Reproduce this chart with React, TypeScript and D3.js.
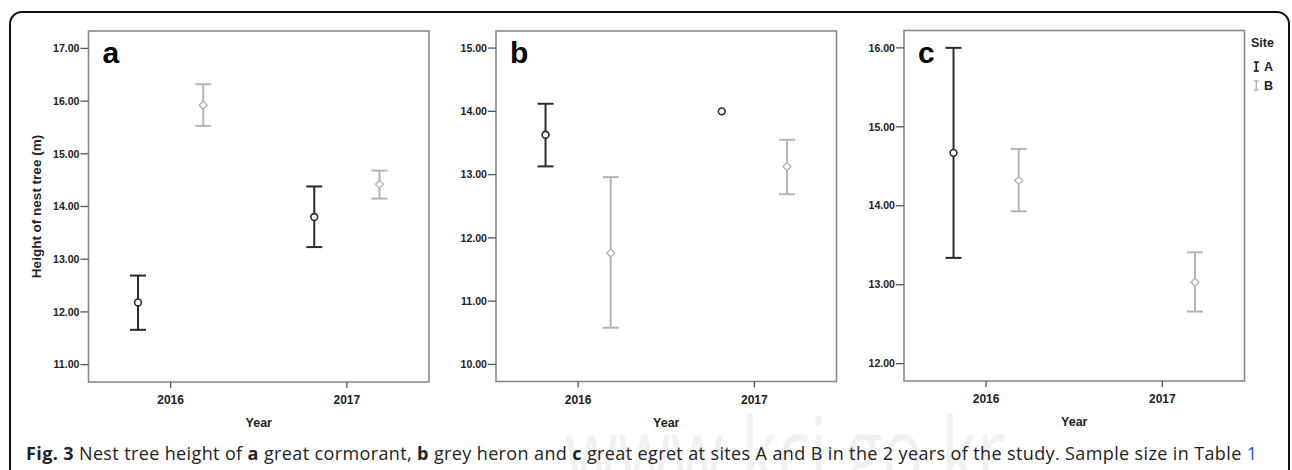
import React from "react";
import * as d3 from "d3";

// ---------- data ----------
const years = [2016, 2017];
const sites = ["A", "B"];

// a: great cormorant
const cormorantMeanA = [12.18, 13.8];
const cormorantLowA = [11.66, 13.23];
const cormorantHighA = [12.69, 14.38];
const cormorantMeanB = [15.92, 14.42];
const cormorantLowB = [15.53, 14.15];
const cormorantHighB = [16.32, 14.68];
const cormorantTicks = [11, 12, 13, 14, 15, 16, 17];

// b: grey heron
const heronMeanA = [13.63, 14.0];
const heronLowA: (number | null)[] = [13.13, null];
const heronHighA: (number | null)[] = [14.12, null];
const heronMeanB = [11.76, 13.13];
const heronLowB = [10.58, 12.69];
const heronHighB = [12.96, 13.55];
const heronTicks = [10, 11, 12, 13, 14, 15];

// c: great egret
const egretMeanA: (number | null)[] = [14.67, null];
const egretLowA: (number | null)[] = [13.34, null];
const egretHighA: (number | null)[] = [16.0, null];
const egretMeanB = [14.32, 13.03];
const egretLowB = [13.93, 12.66];
const egretHighB = [14.72, 13.41];
const egretTicks = [12, 13, 14, 15, 16];

const colorA = "#2b2b2b";
const colorB = "#b4b4b4";
const axisColor = "#8a8a8a";
const textColor = "#222";
const FONT = "'Liberation Sans', Arial, sans-serif";

type Series = {
  site: string;
  mean: (number | null)[];
  low: (number | null)[];
  high: (number | null)[];
};

type PanelDef = {
  label: string;
  left: number;
  top: number;
  right: number;
  bottom: number;
  yDomain: [number, number];
  ticks: number[];
  series: Series[];
  showYTitle: boolean;
};

const panels: PanelDef[] = [
  {
    label: "a",
    left: 88.5,
    top: 31,
    right: 429,
    bottom: 382,
    yDomain: [10.67, 17.33],
    ticks: cormorantTicks,
    showYTitle: true,
    series: [
      { site: "A", mean: cormorantMeanA, low: cormorantLowA, high: cormorantHighA },
      { site: "B", mean: cormorantMeanB, low: cormorantLowB, high: cormorantHighB },
    ],
  },
  {
    label: "b",
    left: 496,
    top: 31,
    right: 836.5,
    bottom: 381.5,
    yDomain: [9.73, 15.27],
    ticks: heronTicks,
    showYTitle: false,
    series: [
      { site: "A", mean: heronMeanA, low: heronLowA, high: heronHighA },
      { site: "B", mean: heronMeanB, low: heronLowB, high: heronHighB },
    ],
  },
  {
    label: "c",
    left: 904,
    top: 30.5,
    right: 1244.5,
    bottom: 381,
    yDomain: [11.78, 16.22],
    ticks: egretTicks,
    showYTitle: false,
    series: [
      { site: "A", mean: egretMeanA, low: egretLowA, high: egretHighA },
      { site: "B", mean: egretMeanB, low: egretLowB, high: egretHighB },
    ],
  },
];

const siteOffset: Record<string, number> = { A: -0.185, B: 0.185 };
const siteColor: Record<string, string> = { A: colorA, B: colorB };

function Panel({ p }: { p: PanelDef }) {
  const x = d3.scaleLinear().domain([2015.534, 2017.466]).range([p.left, p.right]);
  const y = d3.scaleLinear().domain(p.yDomain).range([p.bottom, p.top]);
  const fmt = d3.format(".2f");
  const cap = 8;
  return (
    <g>
      <rect
        x={p.left}
        y={p.top}
        width={p.right - p.left}
        height={p.bottom - p.top}
        fill="none"
        stroke={axisColor}
        strokeWidth={1.6}
      />
      {p.ticks.map((t) => (
        <g key={t}>
          <line x1={p.left - 8} x2={p.left} y1={y(t)} y2={y(t)} stroke="#555" strokeWidth={1.3} />
          <text
            x={p.left - 9}
            y={y(t)}
            dy="0.35em"
            textAnchor="end"
            fontFamily={FONT}
            fontWeight="bold"
            fontSize={10.6}
            fill={textColor}
          >
            {fmt(t)}
          </text>
        </g>
      ))}
      {years.map((yr) => (
        <g key={yr}>
          <line x1={x(yr)} x2={x(yr)} y1={p.bottom} y2={p.bottom + 6} stroke="#555" strokeWidth={1.3} />
          <text
            x={x(yr)}
            y={p.bottom + 22}
            textAnchor="middle"
            fontFamily={FONT}
            fontWeight="bold"
            fontSize={12}
            fill={textColor}
          >
            {yr}
          </text>
        </g>
      ))}
      <text
        x={(p.left + p.right) / 2}
        y={p.bottom + 45}
        textAnchor="middle"
        fontFamily={FONT}
        fontWeight="bold"
        fontSize={12.5}
        fill={textColor}
      >
        Year
      </text>
      {p.showYTitle && (
        <text
          transform={`translate(41,${(p.top + p.bottom) / 2}) rotate(-90)`}
          textAnchor="middle"
          fontFamily={FONT}
          fontWeight="bold"
          fontSize={13.5}
          fill={textColor}
        >
          Height of nest tree (m)
        </text>
      )}
      <text
        x={p.left + 14}
        y={p.top + 32}
        fontFamily={FONT}
        fontWeight="bold"
        fontSize={30}
        fill="#000"
      >
        {p.label}
      </text>
      {p.series.map((s) =>
        years.map((yr, i) => {
          const m = s.mean[i];
          if (m == null) return null;
          const cx = x(yr + siteOffset[s.site]);
          const col = siteColor[s.site];
          const lo = s.low[i];
          const hi = s.high[i];
          const cy = y(m);
          return (
            <g key={s.site + yr}>
              {lo != null && hi != null && (
                <g stroke={col} strokeWidth={2}>
                  <line x1={cx} x2={cx} y1={y(hi)} y2={y(lo)} />
                  <line x1={cx - cap} x2={cx + cap} y1={y(hi)} y2={y(hi)} />
                  <line x1={cx - cap} x2={cx + cap} y1={y(lo)} y2={y(lo)} />
                </g>
              )}
              {s.site === "A" ? (
                <circle cx={cx} cy={cy} r={3.4} fill="#fff" stroke={col} strokeWidth={1.6} />
              ) : (
                <path
                  d={`M${cx},${cy - 4}L${cx + 4},${cy}L${cx},${cy + 4}L${cx - 4},${cy}Z`}
                  fill="#fff"
                  stroke={col}
                  strokeWidth={1.4}
                />
              )}
            </g>
          );
        })
      )}
    </g>
  );
}

function Legend() {
  const lx = 1251;
  return (
    <g fontFamily={FONT} fontWeight="bold" fill={textColor}>
      <text x={lx} y={47} fontSize={12.5}>
        Site
      </text>
      {sites.map((s, i) => {
        const cy = 66.5 + i * 19;
        const ix = 1256.3;
        const col = siteColor[s];
        return (
          <g key={s}>
            <g stroke={col} strokeWidth={s === "A" ? 1.8 : 1.4}>
              <line x1={ix} x2={ix} y1={cy - 4.5} y2={cy + 4.5} />
              <line x1={ix - 2.5} x2={ix + 2.5} y1={cy - 4.5} y2={cy - 4.5} />
              <line x1={ix - 2.5} x2={ix + 2.5} y1={cy + 4.5} y2={cy + 4.5} />
            </g>
            <text x={1264} y={cy + 4.5} fontSize={12.5}>
              {s}
            </text>
          </g>
        );
      })}
    </g>
  );
}

export default function App() {
  return (
    <svg
      width={1292}
      height={470}
      style={{ position: "absolute", left: 0, top: 0, background: "#fff" }}
    >
      <rect x={0} y={0} width={1292} height={470} fill="#fff" />
      <text
        x={565}
        y={486}
        fontFamily="'Open Sans', sans-serif"
        fontSize={96}
        fill="#f1f1f1"
        textLength={440}
        lengthAdjust="spacingAndGlyphs"
      >
        www.kci.go.kr
      </text>
      <rect x={10} y={12} width={1279} height={600} rx={12} fill="none" stroke="#111" strokeWidth={2} />
      {panels.map((p) => (
        <Panel key={p.label} p={p} />
      ))}
      <Legend />
      <text
        x={26}
        y={460}
        fontFamily="'Open Sans', sans-serif"
        fontSize={18}
        fill="#222"
        textLength={1231}
        lengthAdjust="spacing"
      >
        <tspan fontWeight="bold">Fig. 3</tspan> Nest tree height of <tspan fontWeight="bold">a</tspan> great
        cormorant, <tspan fontWeight="bold">b</tspan> grey heron and <tspan fontWeight="bold">c</tspan> great
        egret at sites A and B in the 2 years of the study. Sample size in Table{" "}
        <tspan fill="#2456c8">1</tspan>
      </text>
    </svg>
  );
}
